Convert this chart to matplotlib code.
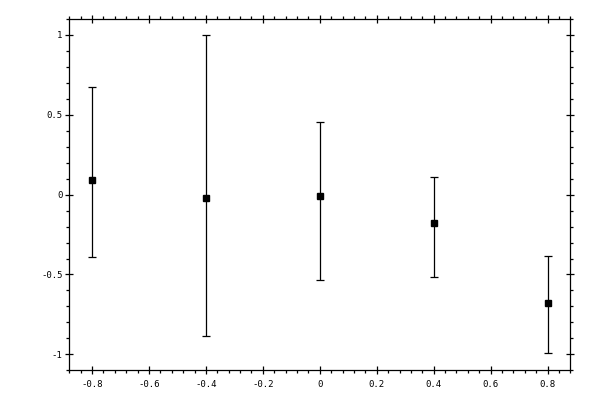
import matplotlib
matplotlib.use("Agg")
import matplotlib.pyplot as plt
from matplotlib.ticker import MultipleLocator, FormatStrFormatter
import numpy as np

# --- Data ---
x = [-0.8, -0.4, 0.0, 0.4, 0.8]
y = [0.09, -0.019, -0.006, -0.176, -0.677]
y_hi = [0.677, 1.0, 0.458, 0.113, -0.385]
y_lo = [-0.389, -0.884, -0.533, -0.514, -0.99]

y = np.array(y)
err = [y - np.array(y_lo), np.array(y_hi) - y]

plt.rcParams['axes.unicode_minus'] = False

fig = plt.figure(figsize=(6, 4), dpi=100)
ax = fig.add_axes([69.3 / 600, 29.7 / 400, 501 / 600, 351.3 / 400])

ax.errorbar(x, y, yerr=err, fmt='s', color='black', ms=5, lw=0.9,
            capsize=3.2, capthick=0.9, elinewidth=0.9)

ax.set_xlim(-0.88, 0.88)
ax.set_ylim(-1.1, 1.1)

ax.xaxis.set_major_locator(MultipleLocator(0.2))
ax.xaxis.set_minor_locator(MultipleLocator(0.04))
ax.yaxis.set_major_locator(MultipleLocator(0.5))
ax.yaxis.set_minor_locator(MultipleLocator(0.1))
ax.xaxis.set_major_formatter(FormatStrFormatter('%g'))
ax.yaxis.set_major_formatter(FormatStrFormatter('%g'))

for s in ax.spines.values():
    s.set_linewidth(0.9)

ax.tick_params(which='both', top=True, right=True, width=0.9, labelsize=6.5,
               labelfontfamily='DejaVu Sans Mono')
ax.tick_params(which='major', direction='inout', length=5.8, pad=2)
ax.tick_params(which='minor', direction='out', length=2.5)
ax.tick_params(axis='x', which='major', pad=4)

fig.savefig("out.png", dpi=100)
